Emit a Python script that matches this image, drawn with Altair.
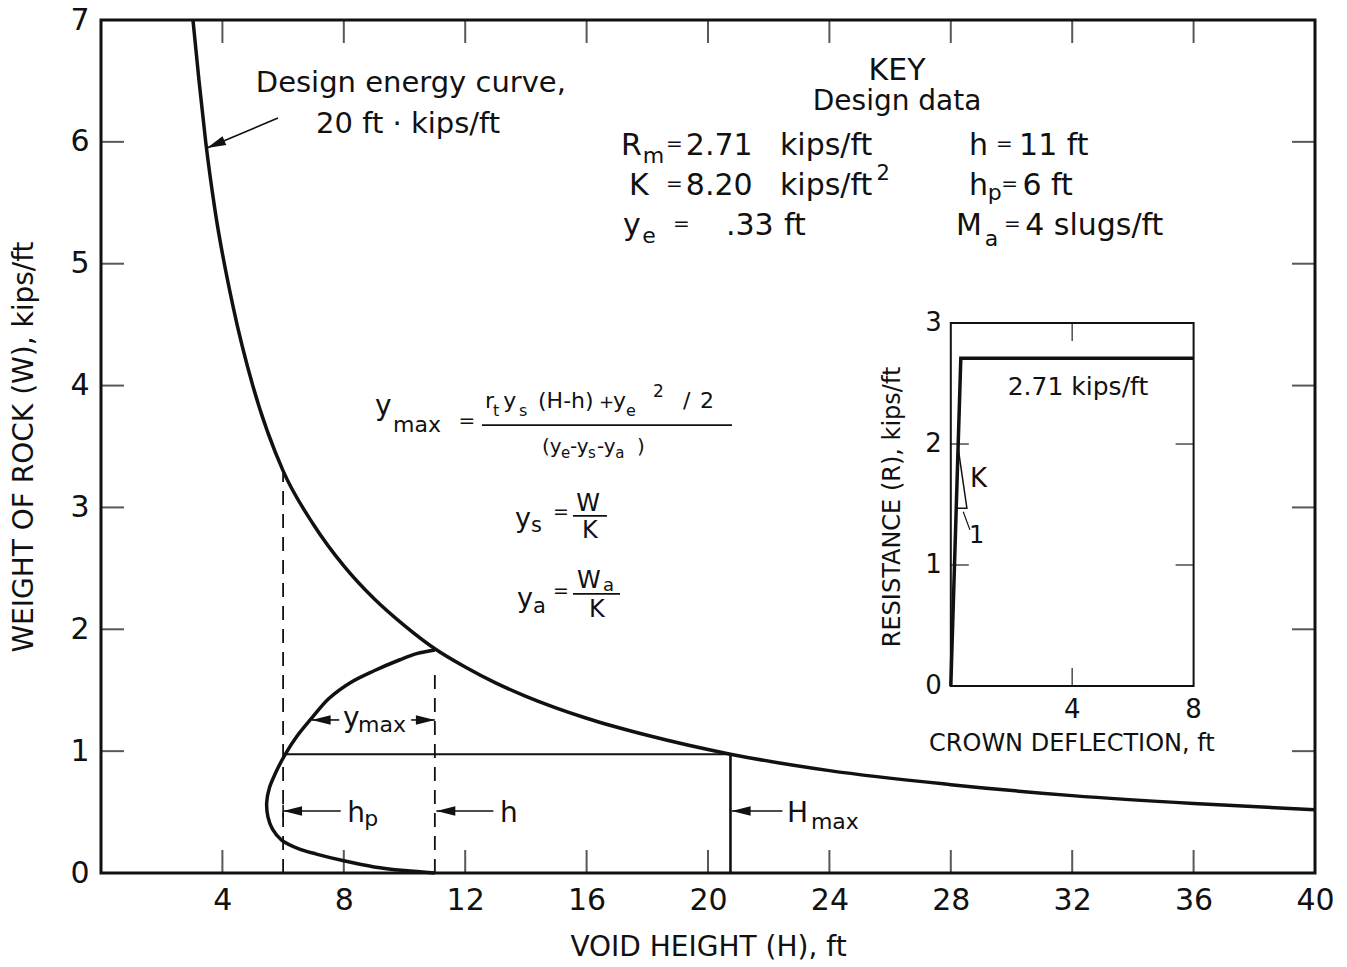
import altair as alt
import pandas as pd

# ---------------- values ----------------
# Design energy curve, 20 ft-kips/ft : void height H (ft) vs weight of rock W (kips/ft)
energy_H = [3.03, 3.23, 3.45, 3.75, 4.35, 5.0, 6.0, 7.0, 8.0, 9.0, 10.0, 11.0,
            12.0, 13.0, 14.0, 16.0, 18.0, 20.74, 24.0, 28.0, 32.0, 36.0, 40.0]
energy_W = [7.0, 6.5, 6.0, 5.45, 4.65, 4.0, 3.30, 2.86, 2.52, 2.25, 2.03, 1.84,
            1.69, 1.56, 1.45, 1.27, 1.13, 0.975, 0.84, 0.725, 0.635, 0.57, 0.52]

# y_max loop (path order)
loop_H = [11.0, 10.4, 9.85, 9.0, 8.2, 7.5, 6.94, 6.45, 6.06, 5.75, 5.55, 5.46, 5.5,
          5.65, 5.95, 6.5, 7.1, 8.0, 9.0, 10.0, 11.0]
loop_W = [1.83, 1.80, 1.75, 1.66, 1.56, 1.43, 1.27, 1.12, 0.97, 0.82, 0.70, 0.58, 0.46,
          0.36, 0.27, 0.20, 0.155, 0.10, 0.05, 0.02, 0.0]

hp_ft = 6.0
h_ft = 11.0
Hmax_ft = 20.74
W_design = 0.975
hp_dash_top = 3.28
h_dash_top = 1.69

x_tick_labels = [4, 8, 12, 16, 20, 24, 28, 32, 36, 40]
y_tick_labels = [0, 1, 2, 3, 4, 5, 6, 7]
x_inner_ticks = [4, 8, 12, 16, 20, 24, 28, 32, 36]
y_inner_ticks = [1, 2, 3, 4, 5, 6]

# inset: resistance function
inset_defl = [0.0, 0.33, 8.0]
inset_res = [0.0, 2.71, 2.71]
inset_x_labels = [4, 8]
inset_y_labels = [0, 1, 2, 3]
inset_x_ticks = [4]
inset_y_ticks = [1, 2]

# ---------------- styling ----------------
FONT = "DejaVu Sans"
INK = "#111111"
W_PX, H_PX = 1214, 853

xs = alt.Scale(domain=[0, 40], nice=False, zero=False)
ys = alt.Scale(domain=[0, 7], nice=False, zero=False)
ixs = alt.Scale(domain=[-28, 12], nice=False, zero=False)
iys = alt.Scale(domain=[-1.546, 5.505], nice=False, zero=False)


def MX(f="H"):
    return alt.X(f"{f}:Q", scale=xs, axis=None)


def MY(f="W"):
    return alt.Y(f"{f}:Q", scale=ys, axis=None)


def IX(f="X"):
    return alt.X(f"{f}:Q", scale=ixs, axis=None)


def IY(f="R"):
    return alt.Y(f"{f}:Q", scale=iys, axis=None)


# ---------------- main panel ----------------
energy_df = pd.DataFrame({"H": energy_H, "W": energy_W})
loop_df = pd.DataFrame({"H": loop_H, "W": loop_W, "i": range(len(loop_H))})

x_axis = alt.Axis(values=x_tick_labels, title="VOID HEIGHT (H), ft", ticks=False, domain=False,
                  grid=False, labelFontSize=30, labelFlush=False, labelOverlap=False,
                  labelPadding=12, labelFont=FONT, labelColor=INK, titleFont=FONT,
                  titleFontSize=28, titleFontWeight="normal", titleColor=INK, titlePadding=18)
y_axis = alt.Axis(values=y_tick_labels, title="WEIGHT OF ROCK (W), kips/ft", ticks=False,
                  domain=False, grid=False, labelFontSize=30, labelFlush=False,
                  labelOverlap=False, labelPadding=12, labelFont=FONT, labelColor=INK,
                  titleFont=FONT, titleFontSize=28, titleFontWeight="normal",
                  titleColor=INK, titlePadding=31)

energy = alt.Chart(energy_df).mark_line(color=INK, strokeWidth=3.5, interpolate="monotone").encode(
    x=alt.X("H:Q", scale=xs, axis=x_axis),
    y=alt.Y("W:Q", scale=ys, axis=y_axis),
)

loop = alt.Chart(loop_df).mark_line(color=INK, strokeWidth=3.5, interpolate="catmull-rom").encode(
    x=MX(), y=MY(), order="i:Q"
)

dash_df = pd.DataFrame({"H": [hp_ft, h_ft], "W": [0.0, 0.0], "W2": [hp_dash_top, h_dash_top]})
dashes = alt.Chart(dash_df).mark_rule(color=INK, strokeWidth=1.8, strokeDash=[14, 9]).encode(
    x=MX(), y=MY(), y2="W2:Q"
)

hline_df = pd.DataFrame({"H": [6.06], "H2": [Hmax_ft], "W": [W_design]})
hline = alt.Chart(hline_df).mark_rule(color=INK, strokeWidth=2).encode(x=MX(), x2="H2:Q", y=MY())

vline_df = pd.DataFrame({"H": [Hmax_ft], "W": [0.0], "W2": [W_design]})
vline = alt.Chart(vline_df).mark_rule(color=INK, strokeWidth=2.6).encode(x=MX(), y=MY(), y2="W2:Q")

# inward ticks on all four sides
bt_df = pd.DataFrame({"H": x_inner_ticks, "W": [0.0] * len(x_inner_ticks)})
tt_df = pd.DataFrame({"H": x_inner_ticks, "W": [7.0] * len(x_inner_ticks)})
lt_df = pd.DataFrame({"H": [0.0] * len(y_inner_ticks), "W": y_inner_ticks})
rt_df = pd.DataFrame({"H": [40.0] * len(y_inner_ticks), "W": y_inner_ticks})
tick_b = alt.Chart(bt_df).mark_tick(orient="vertical", size=23, thickness=2, yOffset=-11.5, color=INK).encode(x=MX(), y=MY())
tick_t = alt.Chart(tt_df).mark_tick(orient="vertical", size=23, thickness=2, yOffset=11.5, color=INK).encode(x=MX(), y=MY())
tick_l = alt.Chart(lt_df).mark_tick(orient="horizontal", size=23, thickness=2, xOffset=11.5, color=INK).encode(x=MX(), y=MY())
tick_r = alt.Chart(rt_df).mark_tick(orient="horizontal", size=23, thickness=2, xOffset=-11.5, color=INK).encode(x=MX(), y=MY())

# annotation arrows (shaft + head)
shaft_df = pd.DataFrame({
    "H": [5.83, 7.85, 10.22, 7.90, 12.93, 22.45, 6.0],
    "W": [6.196, 1.256, 1.256, 0.509, 0.509, 0.509, 0.46],
    "H2": [3.49, 6.94, 11.0, 6.0, 11.05, 20.78, 6.0],
    "W2": [5.949, 1.256, 1.256, 0.509, 0.509, 0.509, 0.56],
})
shafts = alt.Chart(shaft_df).mark_rule(color=INK, strokeWidth=1.6).encode(
    x=MX(), y=MY(), x2="H2:Q", y2="W2:Q"
)
head_df = pd.DataFrame({
    "H": [3.49, 6.94, 11.0, 6.0, 11.05, 20.78],
    "W": [5.949, 1.256, 1.256, 0.509, 0.509, 0.509],
    "ang": [337, 0, 180, 0, 0, 0],
})
heads = alt.Chart(head_df).mark_point(
    shape="M0,0L2,-0.5L2,0.5Z", filled=True, color=INK, opacity=1, size=360, strokeWidth=0
).encode(x=MX(), y=MY(), angle=alt.Angle("ang:Q", scale=None))

# text pieces (left aligned, alphabetic baseline)
txt_left = pd.DataFrame([
    # key, row 1
    (17.13, 5.892, "R", 30), (17.85, 5.826, "m", 22), (18.62, 5.933, "=", 20),
    (19.27, 5.892, "2.71", 30), (22.37, 5.892, "kips/ft", 30),
    (28.60, 5.892, "h", 30), (29.49, 5.933, "=", 20), (30.25, 5.892, "11 ft", 30),
    # key, row 2
    (17.40, 5.564, "K", 30), (18.62, 5.605, "=", 20), (19.27, 5.564, "8.20", 30),
    (22.37, 5.564, "kips/ft", 30), (25.55, 5.687, "2", 21),
    (28.60, 5.564, "h", 30), (29.22, 5.523, "p", 22), (29.66, 5.605, "=", 20), (30.36, 5.564, "6 ft", 30),
    # key, row 3
    (17.20, 5.236, "y", 30), (17.83, 5.170, "e", 22), (18.85, 5.277, "=", 20),
    (20.59, 5.236, ".33", 30), (22.50, 5.236, "ft", 30),
    (28.17, 5.236, "M", 30), (29.12, 5.145, "a", 22), (29.75, 5.277, "=", 20), (30.45, 5.236, "4 slugs/ft", 30),
    # y_max formula
    (9.03, 3.758, "y", 28), (9.62, 3.619, "max", 22), (11.78, 3.662, "=", 20),
    (12.65, 3.816, "r", 22), (12.92, 3.750, "t", 16), (13.25, 3.816, "y", 22), (13.77, 3.750, "s", 16),
    (14.40, 3.816, "(H-h)", 22), (16.41, 3.816, "+", 18), (16.87, 3.816, "y", 22),
    (17.30, 3.750, "e", 16), (18.19, 3.906, "2", 17), (19.18, 3.816, "/", 22), (19.74, 3.816, "2", 22),
    (14.53, 3.447, "(y", 20), (15.16, 3.406, "e", 15), (15.45, 3.447, "-y", 20),
    (16.05, 3.406, "s", 15), (16.34, 3.447, "-y", 20), (16.94, 3.406, "a", 15), (17.66, 3.447, ")", 20),
    # y_s = W / K
    (13.64, 2.839, "y", 27), (14.17, 2.798, "s", 21), (14.89, 2.915, "=", 19),
    # y_a = W_a / K
    (13.71, 2.183, "y", 27), (14.23, 2.134, "a", 21), (14.89, 2.267, "=", 19),
    (15.68, 2.339, "W", 24), (16.54, 2.314, "a", 18),
    # lower labels
    (7.97, 1.198, "y", 28), (8.47, 1.157, "max", 22),
    (8.11, 0.419, "h", 28), (8.67, 0.386, "p", 22),
    (13.15, 0.419, "h", 28),
    (22.60, 0.419, "H", 28), (23.39, 0.361, "max", 22),
], columns=["H", "W", "t", "s"])

txt_center = pd.DataFrame([
    (10.21, 6.409, "Design energy curve,", 29),
    (10.12, 6.073, "20 ft \u00b7 kips/ft", 29),
    (26.23, 6.507, "KEY", 30),
    (26.23, 6.261, "Design data", 28),
    (16.05, 2.971, "W", 24),
    (16.11, 2.749, "K", 24),
    (16.34, 2.101, "K", 24),
], columns=["H", "W", "t", "s"])

t_left = alt.Chart(txt_left).mark_text(align="left", baseline="alphabetic", font=FONT, color=INK).encode(
    x=MX(), y=MY(), text="t:N", size=alt.Size("s:Q", scale=None)
)
t_center = alt.Chart(txt_center).mark_text(align="center", baseline="alphabetic", font=FONT, color=INK).encode(
    x=MX(), y=MY(), text="t:N", size=alt.Size("s:Q", scale=None)
)

frac_df = pd.DataFrame({"H": [12.55, 15.55, 15.55], "H2": [20.79, 16.67, 17.10],
                        "W": [3.676, 2.930, 2.290]})
fracs = alt.Chart(frac_df).mark_rule(color=INK, strokeWidth=1.8).encode(x=MX(), x2="H2:Q", y=MY())

main_layers = [energy, loop, dashes, hline, vline, tick_b, tick_t, tick_l, tick_r,
               shafts, heads, fracs, t_left, t_center]

# ---------------- inset panel ----------------
box_df = pd.DataFrame({"X": [0.0], "X2": [8.0], "R": [0.0], "R2": [3.0]})
box = alt.Chart(box_df).mark_rect(fillOpacity=0, stroke=INK, strokeWidth=2).encode(
    x=IX(), x2="X2:Q", y=IY(), y2="R2:Q"
)
res_df = pd.DataFrame({"X": inset_defl, "R": inset_res, "i": range(len(inset_defl))})
res_line = alt.Chart(res_df).mark_line(color=INK, strokeWidth=3.5).encode(x=IX(), y=IY(), order="i:Q")

tri_df = pd.DataFrame({"X": [0.24, 0.53, 0.18], "R": [1.97, 1.47, 1.47], "i": [0, 1, 2]})
tri = alt.Chart(tri_df).mark_line(color=INK, strokeWidth=1.5).encode(x=IX(), y=IY(), order="i:Q")
lead_df = pd.DataFrame({"X": [0.41], "R": [1.44], "X2": [0.63], "R2": [1.29]})
lead = alt.Chart(lead_df).mark_rule(color=INK, strokeWidth=1.2).encode(x=IX(), y=IY(), x2="X2:Q", y2="R2:Q")

ibt = pd.DataFrame({"X": inset_x_ticks, "R": [0.0] * len(inset_x_ticks)})
itt = pd.DataFrame({"X": inset_x_ticks, "R": [3.0] * len(inset_x_ticks)})
ilt = pd.DataFrame({"X": [0.0] * len(inset_y_ticks), "R": inset_y_ticks})
irt = pd.DataFrame({"X": [8.0] * len(inset_y_ticks), "R": inset_y_ticks})
itick_b = alt.Chart(ibt).mark_tick(orient="vertical", size=18, thickness=1.6, yOffset=-9, color=INK).encode(x=IX(), y=IY())
itick_t = alt.Chart(itt).mark_tick(orient="vertical", size=18, thickness=1.6, yOffset=9, color=INK).encode(x=IX(), y=IY())
itick_l = alt.Chart(ilt).mark_tick(orient="horizontal", size=18, thickness=1.6, xOffset=9, color=INK).encode(x=IX(), y=IY())
itick_r = alt.Chart(irt).mark_tick(orient="horizontal", size=18, thickness=1.6, xOffset=-9, color=INK).encode(x=IX(), y=IY())

ixl_df = pd.DataFrame({"X": inset_x_labels, "R": [0.0] * len(inset_x_labels), "t": [str(v) for v in inset_x_labels]})
iyl_df = pd.DataFrame({"X": [0.0] * len(inset_y_labels), "R": inset_y_labels, "t": [str(v) for v in inset_y_labels]})
ixl = alt.Chart(ixl_df).mark_text(align="center", baseline="alphabetic", dy=32, font=FONT, fontSize=26, color=INK).encode(
    x=IX(), y=IY(), text="t:N")
iyl = alt.Chart(iyl_df).mark_text(align="right", baseline="middle", dx=-9, font=FONT, fontSize=26, color=INK).encode(
    x=IX(), y=IY(), text="t:N")

itxt_df = pd.DataFrame([
    (4.19, 2.405, "2.71 kips/ft", 25),
    (3.99, -0.537, "CROWN DEFLECTION, ft", 24),
], columns=["X", "R", "t", "s"])
itxt = alt.Chart(itxt_df).mark_text(align="center", baseline="alphabetic", font=FONT, color=INK).encode(
    x=IX(), y=IY(), text="t:N", size=alt.Size("s:Q", scale=None))
iltxt_df = pd.DataFrame([(0.63, 1.645, "K", 26), (0.60, 1.18, "1", 24)], columns=["X", "R", "t", "s"])
iltxt = alt.Chart(iltxt_df).mark_text(align="left", baseline="alphabetic", font=FONT, color=INK).encode(
    x=IX(), y=IY(), text="t:N", size=alt.Size("s:Q", scale=None))
iytitle_df = pd.DataFrame([(-1.90, 1.48, "RESISTANCE (R), kips/ft")], columns=["X", "R", "t"])
iytitle = alt.Chart(iytitle_df).mark_text(align="center", baseline="middle", angle=270, font=FONT,
                                           fontSize=24, color=INK).encode(x=IX(), y=IY(), text="t:N")

inset_layers = [box, res_line, tri, lead, itick_b, itick_t, itick_l, itick_r, ixl, iyl,
                itxt, iltxt, iytitle]

chart = alt.layer(*main_layers, *inset_layers).resolve_scale(x="independent", y="independent").properties(
    width=W_PX, height=H_PX,
    autosize=alt.AutoSizeParams(type="none"),
    padding={"left": 93, "top": 12, "right": 24, "bottom": 92},
    background="white",
).configure_view(stroke=INK, strokeWidth=3)

chart.save("out.html", embed_options={"renderer": "svg", "actions": False})
